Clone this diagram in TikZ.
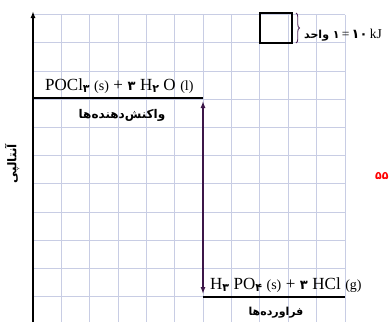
\documentclass[tikz,border=0pt]{standalone}
\usepackage{fontspec}
\setmainfont{Liberation Serif}
\newfontfamily\arabicfont[Script=Arabic]{DejaVu Sans}
\TeXXeTstate=1
\usetikzlibrary{arrows.meta,decorations.pathreplacing}
\definecolor{gridc}{RGB}{200,205,228}
\definecolor{arrc}{RGB}{60,22,72}
\definecolor{bracec}{RGB}{80,40,90}
\newcommand\psub[1]{\raisebox{-0.35ex}{\arabicfont\bfseries\fontsize{11}{11}\selectfont #1}}
\newcommand\pst[1]{{\fontsize{14}{14}\selectfont #1}}
\newcommand\pdig[1]{{\arabicfont\bfseries\fontsize{13}{13}\selectfont #1}}
\newcommand\gap{\hspace{4.5pt}}
\tikzset{
  gridline/.style={draw=gridc, line width=0.8pt},
  level/.style={draw=black, line width=1.8pt},
  formula/.style={inner sep=0pt, font=\fontsize{17}{17}\selectfont},
  falabel/.style={inner sep=0pt, font=\arabicfont\bfseries\fontsize{12}{12}\selectfont},
}
\begin{document}
\begin{tikzpicture}[x=1pt,y=-1pt]
\useasboundingbox (0,0) rectangle (389,322);
% grid
\foreach \i in {1,...,11} {
  \draw[gridline] ({33+28.36*\i},14.5) -- ({33+28.36*\i},322);
}
\foreach \j in {0,...,11} {
  \draw[gridline] (33,{14.5+28.2*\j}) -- (345,{14.5+28.2*\j});
}
% axis
\coordinate (axb) at (33,322);
\coordinate (axt) at (33,11);
\draw[line width=1.6pt, -{Latex[length=7pt,width=5pt]}] (axb) -- (axt);
\node[falabel, rotate=90] (enth) at (12,164) {\beginR آنتالپی\endR};
% levels
\coordinate (r0) at (33,98);
\coordinate (r1) at (203,98);
\coordinate (p0) at (203,297);
\coordinate (p1) at (345,297);
\draw[level] (r0) -- (r1);
\draw[level] (p0) -- (p1);
\coordinate (da) at (203,101);
\coordinate (db) at (203,294);
\draw[draw=arrc, line width=1.3pt, {Latex[length=7pt,width=5pt]}-{Latex[length=7pt,width=5pt]}] (da) -- (db);
% labels
\node[formula, anchor=base west] (react) at (45,90)
  {POCl\psub{۳}\gap\pst{(s)}\gap+\gap\pdig{۳}\gap H\psub{۲}\gap O\gap\pst{(l)}};
\node[falabel] (reactfa) at (122,115) {\beginR واکنش‌دهنده‌ها\endR};
\node[formula, anchor=base west] (prod) at (210,289)
  {H\psub{۳}\gap PO\psub{۴}\gap\pst{(s)}\gap+\gap\pdig{۳}\gap HCl\gap\pst{(g)}};
\node[falabel, font=\arabicfont\bfseries\fontsize{11}{11}\selectfont] (prodfa) at (276,313) {\beginR فراورده‌ها\endR};
% legend
\node[draw=black, line width=1.2pt, minimum width=32pt, minimum height=30pt, inner sep=0pt] (unitbox) at (276,28) {};
\coordinate (bt) at (296,13);
\coordinate (bb) at (296,43);
\draw[draw=bracec, line width=0.9pt, decorate, decoration={brace, amplitude=3.5pt}] (bt) -- (bb);
\node[inner sep=0pt, anchor=base west, font=\fontsize{13.5}{13.5}\selectfont] (unit) at (304,38)
  {{\arabicfont\bfseries\fontsize{11}{11}\selectfont\beginR ۱ واحد\endR}\,=\,\pdig{۱۰}\,kJ};
% red note
\node[inner sep=0pt, anchor=west, text=red, font=\arabicfont\bfseries\fontsize{11}{11}\selectfont] (note) at (375,176) {۵۵};
\end{tikzpicture}
\end{document}
